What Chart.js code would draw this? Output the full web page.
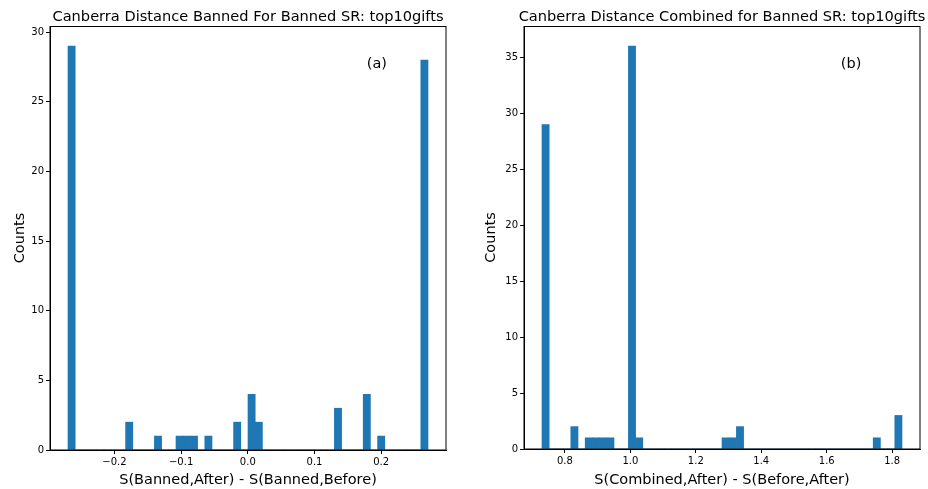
<!DOCTYPE html>
<html>
<head>
<meta charset="utf-8">
<script src="https://cdn.jsdelivr.net/npm/chart.js@4.4.1/dist/chart.umd.min.js"></script>
<style>
body { margin: 0; background: #fff; }
.panel { position: absolute; top: 0; width: 464px; height: 489px; }
</style>
</head>
<body>
<div class="panel" style="left:0"><canvas id="chart-a"></canvas></div>
<div class="panel" style="left:464px"><canvas id="chart-b"></canvas></div>
<script>
// histogram (a): 50 bins between bannedRange
const bannedRange = [-0.2696, 0.2702];
const bannedCounts = [
    29, 0, 0, 0, 0, 0, 0, 0, 2, 0,
    0, 0, 1, 0, 0, 1, 1, 1, 0, 1,
    0, 0, 0, 2, 0, 4, 2, 0, 0, 0,
    0, 0, 0, 0, 0, 0, 0, 3, 0, 0,
    0, 4, 0, 1, 0, 0, 0, 0, 0, 28
];
const bannedTicksX = [-0.2, -0.1, 0.0, 0.1, 0.2];
const bannedTicksY = [0, 5, 10, 15, 20, 25, 30];

// histogram (b): 50 bins between combinedRange
const combinedRange = [0.73, 1.83];
const combinedCounts = [
    29, 0, 0, 0, 2, 0, 1, 1, 1, 1,
    0, 0, 36, 1, 0, 0, 0, 0, 0, 0,
    0, 0, 0, 0, 0, 1, 1, 2, 0, 0,
    0, 0, 0, 0, 0, 0, 0, 0, 0, 0,
    0, 0, 0, 0, 0, 0, 1, 0, 0, 3
];
const combinedTicksX = [0.8, 1.0, 1.2, 1.4, 1.6, 1.8];
const combinedTicksY = [0, 5, 10, 15, 20, 25, 30, 35];

const barColor = '#1f77b4';
const fontFamily = '"DejaVu Sans", sans-serif';

// draws the title, the box around the axes and the (a)/(b) label
const frameAndTag = {
    id: 'frameAndTag',
    afterDraw(chart, args, opts) {
        const a = chart.chartArea;
        const c = chart.ctx;
        c.save();
        c.strokeStyle = '#000';
        c.lineWidth = 1;
        c.strokeRect(a.left, a.top + 0.5, a.right - a.left, a.bottom - a.top - 0.5);
        c.fillStyle = '#000';
        c.font = '14.6px ' + fontFamily;
        c.textAlign = 'center';
        c.textBaseline = 'alphabetic';
        c.fillText(opts.title, (a.left + a.right) / 2, 20.7);
        c.font = '14.5px ' + fontFamily;
        c.textAlign = 'left';
        c.fillText(opts.tag, a.left + 0.8 * (a.right - a.left), a.bottom - 0.9 * (a.bottom - a.top));
        c.restore();
    }
};

function fmtTick(v) {
    return v.toFixed(1).replace('-', '\u2212');
}

function makeHist(canvasId, counts, range, ticksX, ticksY, title, xTitle, tag, box) {
    const n = counts.length;
    const w = (range[1] - range[0]) / n;
    const points = counts.map((c, i) => ({x: range[0] + w * (i + 0.5), y: c}));
    const span = range[1] - range[0];
    const yMax = Math.max(...counts) * 1.05;

    new Chart(document.getElementById(canvasId), {
        type: 'bar',
        data: {
            datasets: [{
                data: points,
                backgroundColor: barColor,
                borderWidth: 0,
                barPercentage: 1,
                categoryPercentage: 1,
            }],
        },
        options: {
            responsive: true,
            maintainAspectRatio: false,
            animation: false,
            layout: { padding: { left: 0, right: box.right, top: 26, bottom: 0 } },
            plugins: {
                legend: { display: false },
                tooltip: { enabled: false },
                title: { display: false },
                frameAndTag: { tag: tag, title: title },
            },
            scales: {
                x: {
                    type: 'linear',
                    offset: false,
                    min: range[0] - 0.05 * span,
                    max: range[1] + 0.05 * span,
                    afterBuildTicks: (s) => { s.ticks = ticksX.map(v => ({value: v})); },
                    afterFit: (s) => { s.height = box.xHeight; },
                    ticks: {
                        color: '#000',
                        font: { family: fontFamily, size: 10 },
                        padding: 2,
                        maxRotation: 0,
                        callback: (v) => fmtTick(v),
                    },
                    grid: { display: true, offset: false, drawOnChartArea: false, drawTicks: true, tickLength: 4, color: '#000' },
                    border: { display: true, color: '#000' },
                    title: {
                        display: true,
                        text: xTitle,
                        color: '#000',
                        font: { family: fontFamily, size: 14.5 },
                        padding: { top: 4.4, bottom: 0 },
                    },
                },
                y: {
                    min: 0,
                    max: yMax,
                    afterBuildTicks: (s) => { s.ticks = ticksY.map(v => ({value: v})); },
                    afterFit: (s) => { s.width = box.yWidth; },
                    ticks: {
                        color: '#000',
                        font: { family: fontFamily, size: 10 },
                        padding: 2,
                        callback: (v) => String(v),
                    },
                    grid: { display: true, offset: false, drawOnChartArea: false, drawTicks: true, tickLength: 4, color: '#000' },
                    border: { display: true, color: '#000' },
                    title: {
                        display: true,
                        text: 'Counts',
                        color: '#000',
                        font: { family: fontFamily, size: 14.5 },
                        padding: { top: box.yTitlePad, bottom: 0 },
                    },
                },
            },
        },
        plugins: [frameAndTag],
    });
}

makeHist('chart-a', bannedCounts, bannedRange, bannedTicksX, bannedTicksY,
    'Canberra Distance Banned For Banned SR: top10gifts',
    'S(Banned,After) - S(Banned,Before)', '(a)',
    { right: 18, xHeight: 39, yWidth: 50, yTitlePad: 12 });

makeHist('chart-b', combinedCounts, combinedRange, combinedTicksX, combinedTicksY,
    'Canberra Distance Combined for Banned SR: top10gifts',
    'S(Combined,After) - S(Before,After)', '(b)',
    { right: 8, xHeight: 40, yWidth: 60, yTitlePad: 19 });
</script>
</body>
</html>
